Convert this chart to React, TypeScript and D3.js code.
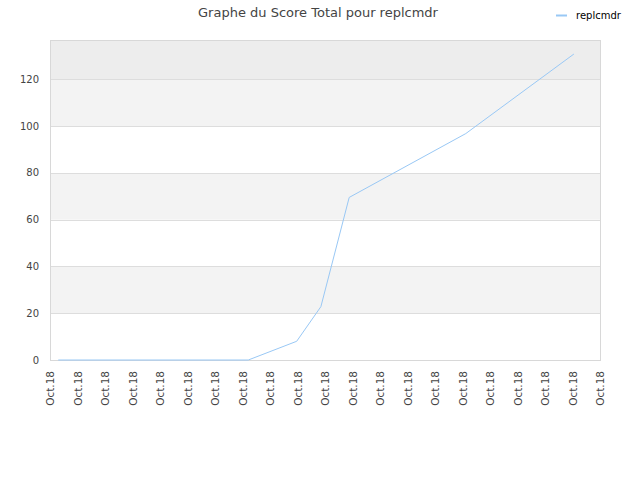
import React from "react";
import * as d3 from "d3";

const title = "Graphe du Score Total pour replcmdr";
const seriesName = "replcmdr";
const tickLabels = Array.from({ length: 21 }, () => "Oct.18");
const tickPositions = d3.range(0, 21);
const pointPositions = [0.3, 7.21, 8.97, 9.85, 10.88, 15.12, 19.05];
const pointValues = [0, 0, 8, 22.8, 69.5, 96.8, 130.8];
const yTicks = [0, 20, 40, 60, 80, 100, 120];
const yMax = 136.8;

const W = 640;
const H = 480;
const left = 50;
const right = 600;
const top = 40;
const bottom = 360;
const font = "DejaVu Sans, sans-serif";

export default function App() {
  const x = d3.scaleLinear().domain([0, 20]).range([left, right]);
  const y = d3.scaleLinear().domain([0, yMax]).range([bottom, top]);
  const line = d3
    .line<number>()
    .x((_, i) => x(pointPositions[i]))
    .y((d) => y(d));

  const bands: { y0: number; y1: number; fill: string }[] = [];
  for (let i = 0; i < yTicks.length; i++) {
    const lo = yTicks[i];
    const hi = i + 1 < yTicks.length ? yTicks[i + 1] : yMax;
    let fill = i % 2 === 1 ? "#f3f3f3" : "#ffffff";
    if (i === yTicks.length - 1) fill = "#ededed";
    bands.push({ y0: lo, y1: hi, fill });
  }

  return (
    <svg
      width={W}
      height={H}
      style={{ position: "absolute", left: 0, top: 0, background: "#fff" }}
    >
      <text
        x={318}
        y={17}
        textAnchor="middle"
        fontFamily={font}
        fontSize={13}
        fill="#444"
      >
        {title}
      </text>
      <line x1={556} x2={567} y1={15.5} y2={15.5} stroke="#99c8f5" strokeWidth={2} />
      <text x={576} y={19} fontFamily={font} fontSize={10} fill="#000">
        {seriesName}
      </text>
      {bands.map((b, i) => (
        <rect
          key={i}
          x={left}
          width={right - left}
          y={y(b.y1)}
          height={y(b.y0) - y(b.y1)}
          fill={b.fill}
        />
      ))}
      {yTicks.map((t) => (
        <line
          key={"g" + t}
          x1={left}
          x2={right}
          y1={Math.round(y(t)) + 0.5}
          y2={Math.round(y(t)) + 0.5}
          stroke="#dddddd"
        />
      ))}
      <rect
        x={left + 0.5}
        y={top + 0.5}
        width={right - left}
        height={bottom - top}
        fill="none"
        stroke="#d8d8d8"
      />
      {yTicks.map((t) => (
        <text
          key={"y" + t}
          x={39}
          y={y(t) + 3.5}
          textAnchor="end"
          fontFamily={font}
          fontSize={10}
          fill="#444"
        >
          {t}
        </text>
      ))}
      {tickPositions.map((p, i) => (
        <text
          key={"x" + i}
          transform={`translate(${x(p) + 4},${371}) rotate(-90)`}
          textAnchor="end"
          fontFamily={font}
          fontSize={10.5}
          fill="#444"
        >
          {tickLabels[i]}
        </text>
      ))}
      <path d={line(pointValues) || ""} fill="none" stroke="#99c8f5" strokeWidth={1} />
    </svg>
  );
}
